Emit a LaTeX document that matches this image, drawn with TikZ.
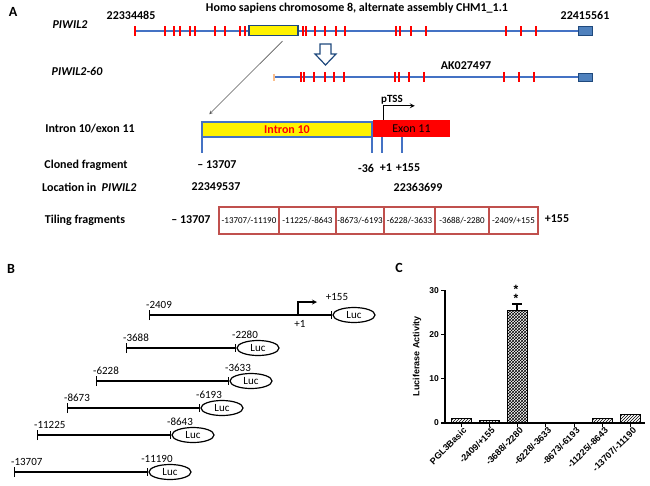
\documentclass[tikz,border=0pt]{standalone}
\usepackage{fontspec}
\setmainfont{Carlito}
\newfontfamily\arialfont{Liberation Sans}
\usetikzlibrary{patterns,arrows.meta,shapes.geometric}

\definecolor{genblue}{RGB}{68,114,196}
\definecolor{endblue}{RGB}{79,129,189}
\definecolor{darkblue}{RGB}{31,73,125}
\definecolor{tilered}{RGB}{192,80,77}
\definecolor{startorange}{RGB}{250,190,140}

\tikzset{
  lbl/.style={font=\fontsize{12}{14}\selectfont\bfseries, inner sep=0pt},
  panel/.style={font=\fontsize{14}{16}\selectfont\bfseries, inner sep=0pt},
  gene/.style={genblue, line width=1.6pt},
  exontick/.style={red, line width=1.8pt},
  endbox/.style={draw=darkblue, fill=endblue, line width=0.8pt},
  tile/.style={draw=tilered, line width=1.2pt, minimum height=27pt, inner sep=0pt, font=\fontsize{9}{10}\selectfont},
  bartxt/.style={font=\fontsize{11}{13}\selectfont, inner sep=0pt},
  luc/.style={draw, ellipse, line width=1.2pt, minimum width=42pt, minimum height=15pt, inner sep=0pt, font=\fontsize{11}{13}\selectfont},
  axtxt/.style={font=\arialfont\fontsize{9}{10}\selectfont\bfseries, inner sep=0pt},
}

\begin{document}
\begin{tikzpicture}[x=1pt, y=-1pt, >=stealth]
  \useasboundingbox (0,0) rectangle (650,485);

  % panel A
  \node[panel] at (13,12) {A};
  \node[lbl] at (357,8) {Homo sapiens chromosome 8, alternate assembly CHM1\_1.1};
  \node[lbl] at (131,15) {22334485};
  \node[lbl] at (585,15) {22415561};
  \node[lbl, font=\fontsize{12}{14}\selectfont\bfseries\itshape] at (70,25) {PIWIL2};
  \node[lbl, font=\fontsize{12}{14}\selectfont\bfseries\itshape] at (77,71) {PIWIL2-60};
  \node[lbl] at (466,66) {AK027497};

  \draw[gene] (134,31) -- (578,31);
  \foreach \x in {135,165,174,180,190,195,215,225,240,245,303,306,315,325,336,345,396,400,411,426,506,521,536} {
    \draw[exontick] (\x,26) -- (\x,36);
  }
  \node[draw=darkblue, fill=yellow, line width=1.2pt, minimum width=49pt, minimum height=10pt, inner sep=0pt] (yellowx) at (273.5,30.5) {};
  \draw[endbox] (578,26.5) rectangle (592,35);

  \draw[gene] (274,77) -- (578,77);
  \draw[startorange, line width=1.5pt] (274,73.5) -- (274,80.5);
  \foreach \x in {301,304,314,325,334,344,395,399,409,424,504,519,534} {
    \draw[exontick] (\x,72) -- (\x,82);
  }
  \draw[endbox] (578,73) rectangle (592,81.5);

  \draw[darkblue, line width=1.2pt, fill=white] (320,44) -- (331,44) -- (331,54) -- (336,54) -- (325.5,65) -- (315,54) -- (320,54) -- cycle;

  % intron 10 / exon 11
  \node[lbl] at (90,129) {Intron 10/exon 11};
  \node[draw=genblue, fill=yellow, line width=1.5pt, minimum width=170pt, minimum height=15pt, inner sep=0pt, text=red, font=\fontsize{12}{14}\selectfont\bfseries] (intronbox) at (287,129.5) {Intron 10};
  \node[fill=red, minimum width=77pt, minimum height=17pt, inner sep=0pt, font=\fontsize{12}{14}\selectfont] (exonbox) at (411.5,128.5) {Exon 11};
  \foreach \x in {202,372,382,402} {
    \draw[genblue, line width=1.5pt] (\x,137) -- (\x,153);
  }
  \draw[->, line width=1.2pt] ([xshift=11pt]exonbox.north west) |- ++(31,-14);
  \node[lbl, font=\fontsize{11}{13}\selectfont\bfseries] at (392,100) {pTSS};
  \draw[->, gray!70!black, line width=0.6pt] ([xshift=9pt,yshift=-5pt]yellowx.south) -- ([xshift=8pt,yshift=7pt]intronbox.north west);

  \node[lbl] at (86,165) {Cloned fragment};
  \node[lbl] at (217,165) {-- 13707};
  \node[lbl] at (366,168) {-36};
  \node[lbl] at (386,168) {+1};
  \node[lbl] at (408,168) {+155};
  \node[lbl, anchor=west] at (42,187) {Location in~~\textit{PIWIL2}};
  \node[lbl] at (216,187) {22349537};
  \node[lbl] at (418,187) {22363699};

  \node[lbl] at (85,220) {Tiling fragments};
  \node[lbl] at (191,220) {-- 13707};
  \node[lbl] at (557,219) {+155};
  \foreach \xa / \xb / \lab [count=\i] in {219/279/{-13707/-11190}, 279/336/{-11225/-8643}, 336/384/{-8673/-6193}, 384/435/{-6228/-3633}, 435/489/{-3688/-2280}, 489/538/{-2409/+155}} {
    \node[tile, minimum width={(\xb-\xa)*1pt}] (tile\i) at ({(\xa+\xb)/2},220.5) {\lab};
  }

  % panel B
  \node[panel] at (11,269) {B};
  \coordinate (s1) at (149,315);
  \node[luc] (luc1) at (354,315) {Luc};
  \draw[{Bar[width=10pt]}-{Bar[width=8pt]}, line width=1.2pt] (s1) -- (luc1.west);
  \draw[->, line width=1.2pt] (298,315) |- (317,302);
  \node[bartxt, anchor=south west] at (146,309) {-2409};
  \node[bartxt] at (300,324) {+1};
  \node[bartxt] at (337,297) {+155};
  \foreach \xs / \xl / \yy / \ls / \le [count=\i from 2] in {126/258/348/-3688/-2280, 96/251/381/-6228/-3633, 67/222/408/-8673/-6193, 37/193/435/-11225/-8643, 14/170/472/-13707/-11190} {
    \coordinate (s\i) at (\xs,\yy);
    \node[luc] (luc\i) at (\xl,\yy) {Luc};
    \draw[{Bar[width=10pt]}-{Bar[width=8pt]}, line width=1.2pt] (s\i) -- (luc\i.west);
    \node[bartxt, anchor=south west] at ({\xs-3},{\yy-6}) {\ls};
    \node[bartxt, anchor=south] at ({\xl-13},{\yy-9}) {\le};
  }

  % panel C
  \node[panel] at (399,268) {C};
  \draw[line width=1.5pt] (445,290) -- (445,423) -- (645,423);
  \foreach \v in {0,10,20,30} {
    \draw[line width=1.2pt] (441,{423-4.43*\v}) -- (445,{423-4.43*\v});
    \node[axtxt, font=\arialfont\fontsize{8.5}{10}\selectfont\bfseries, anchor=east] at (439,{423-4.43*\v}) {\v};
  }
  \node[axtxt, font=\arialfont\fontsize{9}{10}\selectfont\bfseries, rotate=90] at (417,356) {Luciferase Activity};
  \foreach \v / \lab / \pat [count=\i from 0, evaluate=\i as \cx using 461+28.3*\i] in {1.0/PGL3Basic/north east lines, 0.5/{-2409/+155}/north east lines, 25.5/{-3688/-2280}/crosshatch, 0.05/{-6228/-3633}/north east lines, 0.05/{-8673/-6193}/north east lines, 1.0/{-11225/-8643}/north east lines, 2.0/{-13707/-11190}/north east lines} {
    \draw[line width=1pt, pattern=\pat] ({\cx-10},423) rectangle ({\cx+10},{423-4.43*\v});
    \draw[line width=1pt] (\cx,423) -- (\cx,427);
    \node[axtxt, rotate=45, anchor=east] at ({\cx+4},429) {\lab};
  }
  \draw[line width=1.2pt] (517,310) -- (517,304) (512,304) -- (522,304);
  \node[font=\arialfont\fontsize{12}{12}\selectfont\bfseries] at (516,289) {*};
  \node[font=\arialfont\fontsize{12}{12}\selectfont\bfseries] at (516,298) {*};
\end{tikzpicture}
\end{document}
